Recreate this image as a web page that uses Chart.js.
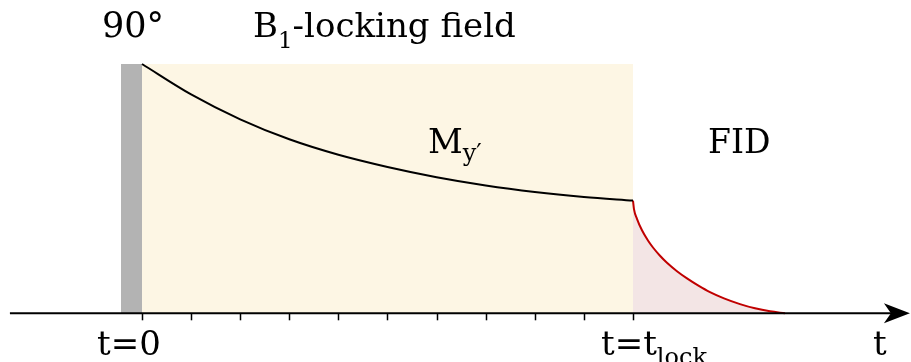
<!DOCTYPE html>
<html>
<head>
<meta charset="utf-8">
<script src="https://cdn.jsdelivr.net/npm/chart.js@4.4.1/dist/chart.umd.min.js"></script>
<style>
  html, body { margin: 0; padding: 0; background: #ffffff; }
  #wrap { width: 911px; height: 362px; }
</style>
</head>
<body>
<div id="wrap"><canvas id="spinLockChart" width="911" height="362"></canvas></div>
<script>
// time in tick units, the lock ends at t = 10
const tickTimes = [0, 1, 2, 3, 4, 5, 6, 7, 8, 9, 10];
const pulseTimes = [-0.43, 0];
const pulseLevel = [1, 1];
const lockTimes = [0, 10];
const lockLevel = [1, 1];
const myTimes = [0, 1, 2, 3, 4, 5, 6, 7, 8, 9, 10];
const myValues = [1.0, 0.878, 0.778, 0.698, 0.636, 0.587, 0.546, 0.513, 0.487, 0.467, 0.452];
const fidTimes = [10, 10.02, 10.081, 10.183, 10.305, 10.407, 10.55, 10.692, 10.896, 11.1, 11.324, 11.568, 11.853, 12.179, 12.485, 12.79, 13.096];
const fidValues = [0.452, 0.418, 0.379, 0.333, 0.292, 0.264, 0.231, 0.203, 0.169, 0.14, 0.112, 0.085, 0.06, 0.037, 0.02, 0.008, 0];

const SERIF = '"DejaVu Serif", "Liberation Serif", serif';

function points(xs, ys) {
    return xs.map((x, i) => ({ x, y: ys[i] }));
}

function drawRich(ctx, x, y, parts) {
    let cx = x;
    parts.forEach((p) => {
        ctx.font = `${p.size}px ${SERIF}`;
        ctx.fillText(p.text, cx, y + (p.dy || 0));
        cx += ctx.measureText(p.text).width;
    });
}

// time axis with ticks and arrow head
const timeAxis = {
    id: 'timeAxis',
    afterDatasetsDraw(chart) {
        const { ctx, scales: { x, y } } = chart;
        const y0 = y.getPixelForValue(0);
        const tip = x.getPixelForValue(15.64);

        ctx.save();
        ctx.strokeStyle = '#000';
        ctx.fillStyle = '#000';
        ctx.lineWidth = 2;
        ctx.beginPath();
        ctx.moveTo(x.getPixelForValue(-2.69), y0);
        ctx.lineTo(tip - 12, y0);
        ctx.stroke();

        ctx.lineWidth = 1.5;
        tickTimes.forEach((t) => {
            const px = Math.round(x.getPixelForValue(t)) + 0.5;
            ctx.beginPath();
            ctx.moveTo(px, y0);
            ctx.lineTo(px, y0 + 7);
            ctx.stroke();
        });

        ctx.beginPath();
        ctx.moveTo(tip, y0);
        ctx.lineTo(tip - 26, y0 - 10);
        ctx.lineTo(tip - 19, y0);
        ctx.lineTo(tip - 26, y0 + 10);
        ctx.closePath();
        ctx.fill();
        ctx.restore();
    },
};

// pulse, lock and signal labels
const labels = {
    id: 'labels',
    afterDraw(chart) {
        const { ctx, scales: { x } } = chart;
        const x0 = x.getPixelForValue(0);
        const xLock = x.getPixelForValue(10);

        ctx.save();
        ctx.fillStyle = '#000';
        ctx.textBaseline = 'alphabetic';
        drawRich(ctx, 102, 37, [{ text: '90°', size: 35 }]);
        drawRich(ctx, 253, 37, [
            { text: 'B', size: 34 },
            { text: '1', size: 23, dy: 11 },
            { text: '-locking field', size: 34 },
        ]);
        drawRich(ctx, 428, 153, [
            { text: 'M', size: 34 },
            { text: 'y′', size: 24, dy: 8 },
        ]);
        drawRich(ctx, 708, 153, [{ text: 'FID', size: 33 }]);
        drawRich(ctx, x0 - 45, 355, [{ text: 't=0', size: 34 }]);
        drawRich(ctx, xLock - 32, 355, [
            { text: 't=t', size: 34 },
            { text: 'lock', size: 24, dy: 10 },
        ]);
        drawRich(ctx, 873, 355, [{ text: 't', size: 34 }]);
        ctx.restore();
    },
};

new Chart(document.getElementById('spinLockChart'), {
    type: 'line',
    data: {
        datasets: [
            {
                label: 'My',
                data: points(myTimes, myValues),
                borderColor: '#000',
                borderWidth: 2,
                cubicInterpolationMode: 'monotone',
                fill: false,
                order: 1,
            },
            {
                label: 'FID',
                data: points(fidTimes, fidValues),
                borderColor: '#c00000',
                backgroundColor: '#f3e5e5',
                borderWidth: 2,
                cubicInterpolationMode: 'monotone',
                fill: 'origin',
                order: 2,
            },
            {
                label: '90° pulse',
                data: points(pulseTimes, pulseLevel),
                borderWidth: 0,
                backgroundColor: '#b3b3b3',
                fill: 'origin',
                order: 3,
            },
            {
                label: 'B1-locking field',
                data: points(lockTimes, lockLevel),
                borderWidth: 0,
                backgroundColor: '#fdf6e4',
                fill: 'origin',
                order: 4,
            },
        ],
    },
    options: {
        responsive: false,
        animation: false,
        devicePixelRatio: 1,
        layout: { padding: 0 },
        elements: { point: { radius: 0 } },
        plugins: {
            legend: { display: false },
            tooltip: { enabled: false },
        },
        scales: {
            x: { type: 'linear', min: -2.892, max: 15.662, display: false },
            y: { type: 'linear', min: -0.1953, max: 1.2567, display: false },
        },
    },
    plugins: [timeAxis, labels],
});
</script>
</body>
</html>
